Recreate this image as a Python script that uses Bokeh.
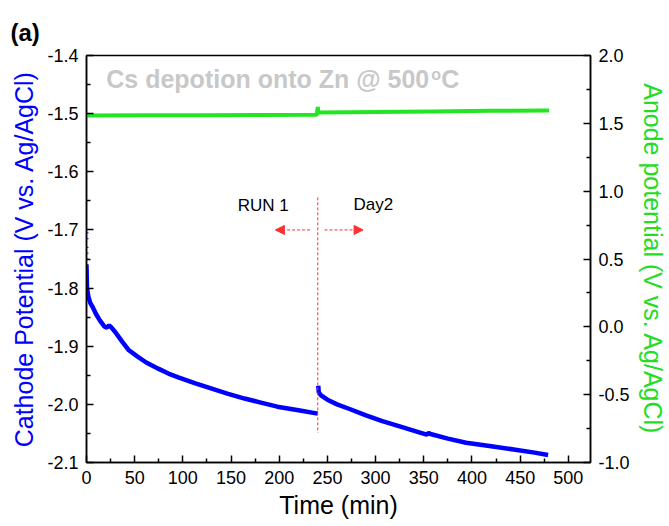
from bokeh.plotting import figure
from bokeh.models import Range1d, LinearAxis, Label, Arrow, NormalHead, FixedTicker
from bokeh.embed import file_html
from bokeh.resources import INLINE

# ---- data ----
run1_time = [0, 0.5, 2, 4, 6.5, 10, 14, 18.5, 21, 23.5, 26, 30, 37, 44, 53, 62, 75, 85, 96,
             113, 130, 147, 164, 181, 198, 220, 240]
run1_cathode = [-1.76, -1.80, -1.815, -1.826, -1.833, -1.845, -1.856, -1.866, -1.868, -1.864,
                -1.868, -1.876, -1.892, -1.907, -1.918, -1.928, -1.939, -1.947, -1.954,
                -1.964, -1.973, -1.982, -1.990, -1.997, -2.004, -2.010, -2.016]
start_time = [0, 0, 0, 0, 0, 0, 0, 0]
start_cathode = [-1.705, -1.715, -1.73, -1.74, -1.75, -1.76, -1.77, -1.78]
run2_time = [240.5, 241, 243, 250, 260, 273, 290, 307, 325, 341, 353, 355, 357, 375, 394,
             420, 445, 465, 479]
run2_cathode = [-1.968, -1.979, -1.984, -1.992, -2.000, -2.008, -2.019, -2.029, -2.038,
                -2.046, -2.052, -2.049, -2.051, -2.059, -2.066, -2.072, -2.078, -2.083,
                -2.087]
anode_time = [0, 60, 120, 180, 239, 240, 240.5, 241, 300, 360, 420, 480]
anode_potential = [1.557, 1.559, 1.560, 1.562, 1.563, 1.62, 1.585, 1.580, 1.584, 1.588,
                   1.592, 1.595]
divider_time = [240]
x_ticks = [0, 50, 100, 150, 200, 250, 300, 350, 400, 450, 500]
x_minor = [25, 75, 125, 175, 225, 275, 325, 375, 425, 475, 525]
left_ticks = [-2.1, -2.0, -1.9, -1.8, -1.7, -1.6, -1.5, -1.4]
left_minor = [-2.05, -1.95, -1.85, -1.75, -1.65, -1.55, -1.45]
right_ticks = [-1.0, -0.5, 0.0, 0.5, 1.0, 1.5, 2.0]
right_minor = [-0.75, -0.25, 0.25, 0.75, 1.25, 1.75]

FONT = "Liberation Sans"
BLUE = "#0000ff"
GREEN = "#22e622"
RED = "#ff3030"

p = figure(width=669, height=526, output_backend="svg", toolbar_location=None,
           x_range=Range1d(0, 523), y_range=Range1d(-2.1, -1.4),
           min_border_left=86, min_border_right=73, min_border_top=55, min_border_bottom=64,
           title="(a)")
p.title.text_font = FONT
p.title.text_font_size = "24px"
p.title.text_font_style = "bold"
p.title.text_color = "black"
p.title.align = "left"
p.title.offset = -76
p.title.standoff = 20
p.extra_y_ranges = {"anode": Range1d(-1.0, 2.0)}
p.grid.visible = False
p.outline_line_color = "black"
p.outline_line_width = 1.5
p.background_fill_color = "white"
p.border_fill_color = "white"

# data
p.line(anode_time, anode_potential, y_range_name="anode", color=GREEN, line_width=4)
p.line(run1_time, run1_cathode, color=BLUE, line_width=4.5)
p.line(run2_time, run2_cathode, color=BLUE, line_width=4.5)
p.scatter(start_time, start_cathode, marker="dash", size=4, color=BLUE, line_width=1)

# divider
p.segment(x0=divider_time, y0=[-1.644], x1=divider_time, y1=[-2.049],
          line_color=RED, line_dash="3 2", line_width=1)
p.add_layout(Arrow(x_start=232, y_start=-1.70, x_end=196, y_end=-1.70,
                   line_color=RED, line_dash="3 2", line_width=1,
                   end=NormalHead(size=9, fill_color=RED, line_color=RED)))
p.add_layout(Arrow(x_start=247, y_start=-1.70, x_end=287, y_end=-1.70,
                   line_color=RED, line_dash="3 2", line_width=1,
                   end=NormalHead(size=9, fill_color=RED, line_color=RED)))
p.add_layout(Label(x=157, y=-1.675, text="RUN 1", text_font=FONT, text_font_size="17px",
                   text_color="black"))
p.add_layout(Label(x=277, y=-1.672, text="Day2", text_font=FONT, text_font_size="17px",
                   text_color="black"))

# grey annotation
GREY = "#c8c8c8"
p.add_layout(Label(x=20.5, y=-1.464, text="Cs depotion onto Zn @ 500", text_font=FONT,
                   text_font_size="25px", text_font_style="bold", text_color=GREY))
p.add_layout(Label(x=20.5, y=-1.464, x_offset=325, y_offset=10, text="o", text_font=FONT,
                   text_font_size="16px", text_font_style="bold", text_color=GREY))
p.add_layout(Label(x=20.5, y=-1.464, x_offset=335, text="C", text_font=FONT,
                   text_font_size="25px", text_font_style="bold", text_color=GREY))

# axes
def style(ax, label, color):
    ax.axis_label = label
    ax.axis_label_text_font = FONT
    ax.axis_label_text_font_size = "25px"
    ax.axis_label_text_font_style = "normal"
    ax.axis_label_text_color = color
    ax.major_label_text_font = FONT
    ax.major_label_text_font_size = "18px"
    ax.major_label_text_color = "black"
    ax.axis_line_color = "black"
    ax.axis_line_width = 1.5
    ax.major_tick_line_color = "black"
    ax.minor_tick_line_color = "black"
    ax.major_tick_line_width = 1.5
    ax.minor_tick_line_width = 1.5
    ax.major_tick_in = 7
    ax.major_tick_out = 0
    ax.minor_tick_in = 4
    ax.minor_tick_out = 0
    ax.major_label_standoff = 8
    ax.axis_label_standoff = 6

xa = p.xaxis[0]
xa.ticker = FixedTicker(ticks=x_ticks, minor_ticks=x_minor)
style(xa, "Time (min)", "black")
xa.axis_label_standoff = 4

ya = p.yaxis[0]
ya.ticker = FixedTicker(ticks=left_ticks, minor_ticks=left_minor)
ya.major_label_overrides = {v: f"{v:.1f}" for v in left_ticks}
style(ya, "Cathode Potential (V vs. Ag/AgCl)", BLUE)

ra = LinearAxis(y_range_name="anode")
ra.ticker = FixedTicker(ticks=right_ticks, minor_ticks=right_minor)
ra.major_label_overrides = {v: f"{v:.1f}" for v in right_ticks}
style(ra, "Anode potential (V vs. Ag/AgCl)", "#22dd22")
p.add_layout(ra, "right")

open("out.html", "w").write(file_html(p, INLINE))
